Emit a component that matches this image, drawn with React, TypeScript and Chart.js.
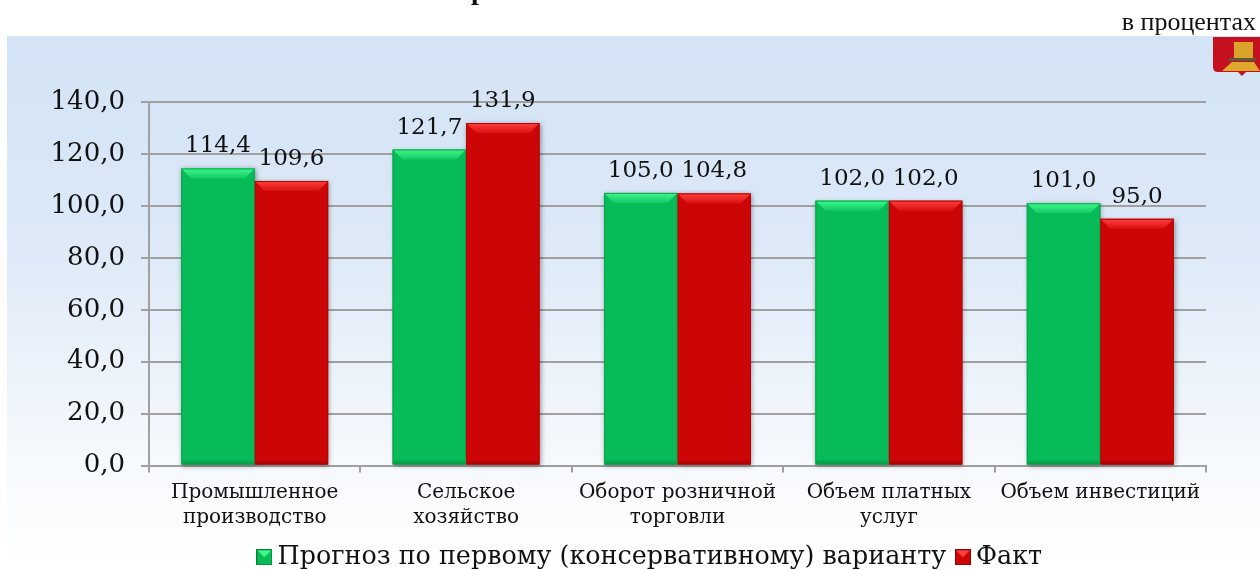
import React, { useEffect, useRef } from "react";
import { Chart, registerables } from "chart.js";

Chart.register(...registerables);

const categories = [
  ["Промышленное", "производство"],
  ["Сельское", "хозяйство"],
  ["Оборот розничной", "торговли"],
  ["Объем платных", "услуг"],
  ["Объем инвестиций"],
];
const forecast = [114.4, 121.7, 105.0, 102.0, 101.0];
const fact = [109.6, 131.9, 104.8, 102.0, 95.0];
const seriesNames = ["Прогноз по первому (консервативному) варианту", "Факт"];
const unitLabel = "в процентах";
const SERIF = '"DejaVu Serif", serif';

const palettes = [
  { base: "#07bb58", top: "#3dfa8c", topEnd: "#14c964", edge: "#05a64c", dark: "#04803a" },
  { base: "#cc0606", top: "#ff4040", topEnd: "#d81010", edge: "#b80404", dark: "#8c0202" },
];

const fmt = (v: number) => v.toFixed(1).replace(".", ",");

function legendMarker(p: (typeof palettes)[number]) {
  const c = document.createElement("canvas");
  c.width = 16;
  c.height = 16;
  const x = c.getContext("2d") as CanvasRenderingContext2D;
  x.fillStyle = p.base;
  x.fillRect(0, 0, 16, 16);
  x.fillStyle = p.top;
  x.beginPath();
  x.moveTo(0, 0);
  x.lineTo(16, 0);
  x.lineTo(8, 8);
  x.closePath();
  x.fill();
  x.strokeStyle = p.dark;
  x.strokeRect(0.5, 0.5, 15, 15);
  return c;
}

const pagePlugin = {
  id: "page",
  afterLayout(chart: any) {
    const lg = chart.legend;
    if (lg) {
      lg.left += 50;
      lg.right += 50;
      lg.top += 10;
      lg.bottom += 10;
    }
  },
  beforeDraw(chart: any) {
    const { ctx, width, height } = chart;
    ctx.save();
    const g = ctx.createLinearGradient(0, 36, 0, height);
    g.addColorStop(0, "#d3e4f6");
    g.addColorStop(0.35, "#dbe8f7");
    g.addColorStop(0.8, "#f6f9fd");
    g.addColorStop(1, "#ffffff");
    ctx.fillStyle = g;
    ctx.fillRect(7, 36, width - 7, height - 36);
    ctx.restore();
  },
  afterDraw(chart: any) {
    const { ctx } = chart;
    ctx.save();
    ctx.fillStyle = "#111";
    ctx.font = '26px "Liberation Serif", serif';
    ctx.textAlign = "right";
    ctx.textBaseline = "alphabetic";
    ctx.fillText(unitLabel, 1256, 30);
    // clipped remains of the cut-off heading
    ctx.font = 'bold 28px "Liberation Serif", serif';
    ctx.textAlign = "left";
    ctx.fillText("р", 471, -1);
    ctx.fillText("д", 814, -5);
    // emblem
    ctx.fillStyle = "#c4101f";
    ctx.beginPath();
    ctx.moveTo(1213, 37);
    ctx.lineTo(1260, 37);
    ctx.lineTo(1260, 72);
    ctx.lineTo(1246, 72);
    ctx.lineTo(1242, 76);
    ctx.lineTo(1238, 72);
    ctx.lineTo(1218, 72);
    ctx.quadraticCurveTo(1213, 72, 1213, 67);
    ctx.closePath();
    ctx.fill();
    ctx.fillStyle = "#d9a32c";
    ctx.fillRect(1234, 42, 19, 16);
    ctx.fillStyle = "#5a5a3a";
    ctx.fillRect(1229, 58, 27, 3);
    ctx.fillStyle = "#e0a92e";
    ctx.beginPath();
    ctx.moveTo(1232, 62);
    ctx.lineTo(1254, 62);
    ctx.lineTo(1260, 71);
    ctx.lineTo(1222, 71);
    ctx.closePath();
    ctx.fill();
    ctx.restore();
  },
};

const bevelPlugin = {
  id: "bevel",
  beforeDatasetsDraw(chart: any) {
    const { ctx } = chart;
    chart.data.datasets.forEach((_: any, di: number) => {
      chart.getDatasetMeta(di).data.forEach((bar: any) => {
        ctx.save();
        ctx.shadowColor = "rgba(0,0,0,0.4)";
        ctx.shadowBlur = 5;
        ctx.shadowOffsetX = 1;
        ctx.shadowOffsetY = 1;
        ctx.fillStyle = "#888";
        ctx.fillRect(bar.x - bar.width / 2, bar.y, bar.width, bar.base - bar.y);
        ctx.restore();
      });
    });
  },
  afterDatasetsDraw(chart: any) {
    const { ctx } = chart;
    const d = 10;
    chart.data.datasets.forEach((ds: any, di: number) => {
      const p = palettes[di];
      const meta = chart.getDatasetMeta(di);
      meta.data.forEach((bar: any, i: number) => {
        const l = bar.x - bar.width / 2;
        const r = bar.x + bar.width / 2;
        const t = bar.y;
        const b = bar.base;
        ctx.save();
        const g = ctx.createLinearGradient(0, t, 0, t + d);
        g.addColorStop(0, p.top);
        g.addColorStop(1, p.topEnd);
        ctx.fillStyle = g;
        ctx.beginPath();
        ctx.moveTo(l, t);
        ctx.lineTo(r, t);
        ctx.lineTo(r - d, t + d);
        ctx.lineTo(l + d, t + d);
        ctx.closePath();
        ctx.fill();
        ctx.strokeStyle = p.edge;
        ctx.lineWidth = 1;
        ctx.strokeRect(l + 0.5, t + 0.5, bar.width - 1, b - t - 1);
        ctx.fillStyle = p.dark;
        ctx.globalAlpha = 0.35;
        ctx.fillRect(l + 1, b - 4, bar.width - 2, 4);
        ctx.globalAlpha = 1;
        ctx.restore();
        ctx.save();
        ctx.fillStyle = "#111";
        ctx.font = `23px ${SERIF}`;
        ctx.textAlign = "center";
        ctx.textBaseline = "alphabetic";
        ctx.fillText(fmt(ds.data[i]), bar.x, t - 16);
        ctx.restore();
      });
    });
  },
};

export default function App() {
  const ref = useRef<HTMLCanvasElement | null>(null);

  useEffect(() => {
    document.body.style.margin = "0";
    const markers = palettes.map(legendMarker);
    const chart = new Chart(ref.current as HTMLCanvasElement, {
      type: "bar",
      data: {
        labels: categories as any,
        datasets: [
          {
            label: seriesNames[0],
            data: forecast,
            backgroundColor: palettes[0].base,
            barPercentage: 1,
            categoryPercentage: 0.695,
          },
          {
            label: seriesNames[1],
            data: fact,
            backgroundColor: palettes[1].base,
            barPercentage: 1,
            categoryPercentage: 0.695,
          },
        ],
      },
      options: {
        responsive: false,
        animation: false,
        layout: { padding: { top: 102, right: 54, left: 0, bottom: 0 } },
        plugins: {
          title: { display: false },
          tooltip: { enabled: false },
          legend: {
            display: true,
            position: "bottom",
            labels: {
              usePointStyle: true,
              boxWidth: 1,
              padding: 0,
              color: "#111",
              font: { family: SERIF, size: 25.4 },
              generateLabels: (c: any) =>
                c.data.datasets.map((ds: any, i: number) => ({
                  text: i === 0 ? ds.label + "\u00a0\u00a0" : ds.label,
                  pointStyle: markers[i],
                  fontColor: "#111",
                  datasetIndex: i,
                  lineWidth: 0,
                  fillStyle: ds.backgroundColor,
                  strokeStyle: ds.backgroundColor,
                })),
            },
          },
        },
        scales: {
          x: {
            offset: true,
            afterFit(s: any) {
              s.height = 69;
            },
            border: { color: "#a0a0a0", width: 2 },
            grid: {
              drawOnChartArea: false,
              drawTicks: true,
              tickLength: 7,
              color: "#a0a0a0",
              lineWidth: 2,
              offset: true,
            },
            ticks: {
              color: "#111",
              padding: 8,
              maxRotation: 0,
              autoSkip: false,
              font: { family: SERIF, size: 20, lineHeight: 1.25 },
            },
          },
          y: {
            min: 0,
            max: 140,
            afterFit(s: any) {
              s.width = 149;
            },
            border: { color: "#a0a0a0", width: 2 },
            grid: { color: "#a0a0a0", lineWidth: 2, tickLength: 8 },
            ticks: {
              stepSize: 20,
              color: "#111",
              padding: 16,
              font: { family: SERIF, size: 26 },
              callback: (v: any) => fmt(Number(v)),
            },
          },
        },
      } as any,
      plugins: [pagePlugin, bevelPlugin],
    });
    return () => chart.destroy();
  }, []);

  return <canvas ref={ref} width={1260} height={570} style={{ display: "block" }} />;
}
